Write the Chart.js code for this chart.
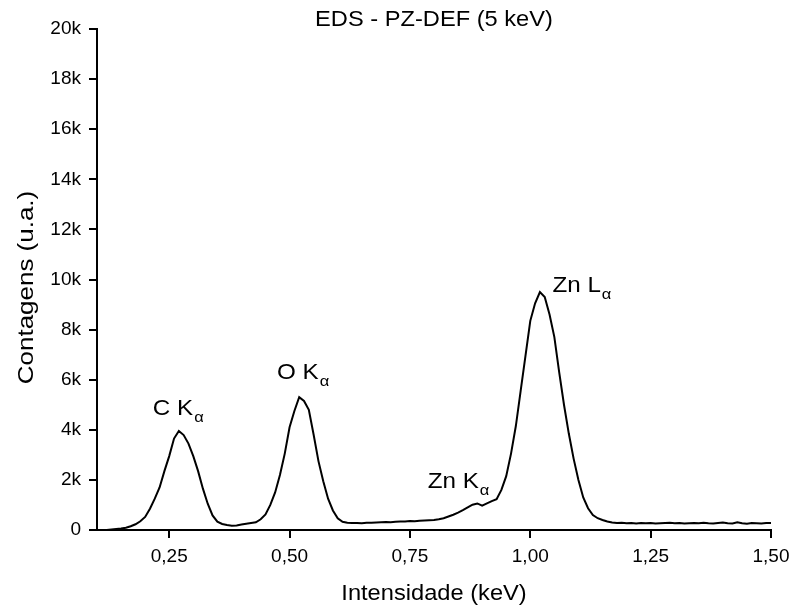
<!DOCTYPE html>
<html>
<head>
<meta charset="utf-8">
<script src="https://cdn.jsdelivr.net/npm/chart.js@4"></script>
<style>
  html, body { margin: 0; padding: 0; background: #fff; }
  canvas { display: block; }
</style>
</head>
<body>
<canvas id="c" width="792" height="607"></canvas>
<script>
// Channel energies (keV)
const energy = [
  0.12, 0.13, 0.14, 0.15, 0.16, 0.17, 0.18, 0.19, 0.20, 0.21,
  0.22, 0.23, 0.24, 0.25, 0.26, 0.27, 0.28, 0.29, 0.30, 0.31,
  0.32, 0.33, 0.34, 0.35, 0.36, 0.37, 0.38, 0.39, 0.40, 0.41,
  0.42, 0.43, 0.44, 0.45, 0.46, 0.47, 0.48, 0.49, 0.50, 0.51,
  0.52, 0.53, 0.54, 0.55, 0.56, 0.57, 0.58, 0.59, 0.60, 0.61,
  0.62, 0.63, 0.64, 0.65, 0.66, 0.67, 0.68, 0.69, 0.70, 0.71,
  0.72, 0.73, 0.74, 0.75, 0.76, 0.77, 0.78, 0.79, 0.80, 0.81,
  0.82, 0.83, 0.84, 0.85, 0.86, 0.87, 0.88, 0.89, 0.90, 0.91,
  0.92, 0.93, 0.94, 0.95, 0.96, 0.97, 0.98, 0.99, 1.00, 1.01,
  1.02, 1.03, 1.04, 1.05, 1.06, 1.07, 1.08, 1.09, 1.10, 1.11,
  1.12, 1.13, 1.14, 1.15, 1.16, 1.17, 1.18, 1.19, 1.20, 1.21,
  1.22, 1.23, 1.24, 1.25, 1.26, 1.27, 1.28, 1.29, 1.30, 1.31,
  1.32, 1.33, 1.34, 1.35, 1.36, 1.37, 1.38, 1.39, 1.40, 1.41,
  1.42, 1.43, 1.44, 1.45, 1.46, 1.47, 1.48, 1.49, 1.50
];

// Counts per channel
const counts = [
     0,   20,   40,   60,   90,  150,  230,  350,  520,  850,
  1250, 1700, 2350, 2950, 3650, 3950, 3790, 3450, 2950, 2350,
  1650, 1050,  580,  330,  240,  200,  170,  180,  220,  250,
   280,  310,  430,  620, 1000, 1500, 2200, 3050, 4100, 4750,
  5300, 5150, 4800, 3800, 2750, 1950, 1250,  780,  470,  330,
   290,  280,  280,  270,  290,  290,  300,  310,  320,  310,
   330,  340,  340,  360,  350,  370,  380,  390,  400,  430,
   470,  540,  610,  690,  790,  900, 1010, 1060,  970, 1060,
  1150, 1230, 1600, 2150, 3050, 4150, 5550, 6950, 8350, 9050,
  9500, 9300, 8600, 7700, 6300, 5000, 3850, 2850, 2000, 1300,
   870,  600,  470,  400,  340,  300,  280,  290,  270,  280,
   260,  280,  270,  280,  260,  270,  280,  290,  270,  280,
   260,  270,  280,  270,  290,  270,  260,  280,  300,  270,
   260,  310,  270,  250,  280,  270,  260,  280,  280
];

const xTickValues = [0.25, 0.50, 0.75, 1.00, 1.25, 1.50];
const yTickValues = [0, 2000, 4000, 6000, 8000, 10000, 12000, 14000, 16000, 18000, 20000];

const titleText = 'EDS - PZ-DEF (5 keV)';
const xTitleText = 'Intensidade (keV)';
const yTitleText = 'Contagens (u.a.)';

// Peak names with subscript, anchored in data units (keV, counts)
const peakNames = ['C K', 'O K', 'Zn K', 'Zn L'];
const peakSubs = ['\u03B1', '\u03B1', '\u03B1', '\u03B1'];
const peakAnchorKeV = [0.216, 0.474, 0.787, 1.046];
const peakAnchorCounts = [4590, 6016, 1677, 9513];

const FONT = '"Liberation Sans", Arial, sans-serif';
const STRETCH = 1.1;

function wideText(ctx, txt, x, y, size, align, stretch) {
  const k = stretch || STRETCH;
  ctx.save();
  ctx.font = size + 'px ' + FONT;
  ctx.textBaseline = 'alphabetic';
  ctx.textAlign = 'left';
  const w = ctx.measureText(txt).width * k;
  const x0 = align === 'center' ? x - w / 2 : (align === 'right' ? x - w : x);
  ctx.translate(x0, y);
  ctx.scale(k, 1);
  ctx.fillStyle = '#000';
  ctx.fillText(txt, 0, 0);
  ctx.restore();
  return w;
}

const textPlugin = {
  id: 'eds-text',
  afterDraw(chart) {
    const ctx = chart.ctx;
    const a = chart.chartArea;
    const xs = chart.scales.x, ys = chart.scales.y;
    const cx = (a.left + a.right) / 2;

    wideText(ctx, titleText, cx, a.top - 3, 21.5, 'center');
    wideText(ctx, xTitleText, cx, a.bottom + 70, 21.5, 'center');

    ctx.save();
    ctx.translate(33, (a.top + a.bottom) / 2 + 8);
    ctx.rotate(-Math.PI / 2);
    wideText(ctx, yTitleText, 0, 0, 22, 'center', 1.18);
    ctx.restore();

    for (let i = 0; i < peakNames.length; i++) {
      const px = xs.getPixelForValue(peakAnchorKeV[i]);
      const py = ys.getPixelForValue(peakAnchorCounts[i]);
      const w = wideText(ctx, peakNames[i], px, py, 22, 'left');
      wideText(ctx, peakSubs[i], px + w + 1, py + 7, 15, 'left');
    }
  }
};

const tickFont = { family: FONT, size: 19 };

new Chart(document.getElementById('c').getContext('2d'), {
  type: 'line',
  data: {
    datasets: [{
      data: energy.map((e, i) => ({ x: e, y: counts[i] })),
      borderColor: '#000',
      borderWidth: 2,
      pointRadius: 0,
      tension: 0,
      fill: false
    }]
  },
  options: {
    responsive: false,
    animation: false,
    devicePixelRatio: 1,
    layout: { padding: { top: 29, right: 21, left: 0, bottom: 0 } },
    plugins: {
      legend: { display: false },
      title: { display: false },
      tooltip: { enabled: false }
    },
    scales: {
      x: {
        type: 'linear',
        min: 0.1,
        max: 1.5,
        afterBuildTicks: s => { s.ticks = xTickValues.map(v => ({ value: v })); },
        afterFit: s => { s.height = 77; s.paddingLeft = 0; s.paddingRight = 0; },
        ticks: {
          callback: v => Number(v).toFixed(2).replace('.', ','),
          font: tickFont,
          color: '#000',
          maxRotation: 0,
          autoSkip: false,
          padding: 7
        },
        grid: { drawOnChartArea: false, drawTicks: true, tickLength: 8, color: '#000', lineWidth: 2 },
        border: { display: true, color: '#000', width: 2 }
      },
      y: {
        type: 'linear',
        min: 0,
        max: 20000,
        afterBuildTicks: s => { s.ticks = yTickValues.map(v => ({ value: v })); },
        afterFit: s => { s.width = 97; s.paddingTop = 0; s.paddingBottom = 0; },
        ticks: {
          callback: v => v === 0 ? '0' : (v / 1000) + 'k',
          font: tickFont,
          color: '#000',
          autoSkip: false,
          padding: 8
        },
        grid: { drawOnChartArea: false, drawTicks: true, tickLength: 8, color: '#000', lineWidth: 2 },
        border: { display: true, color: '#000', width: 2 }
      }
    }
  },
  plugins: [textPlugin]
});
</script>
</body>
</html>
